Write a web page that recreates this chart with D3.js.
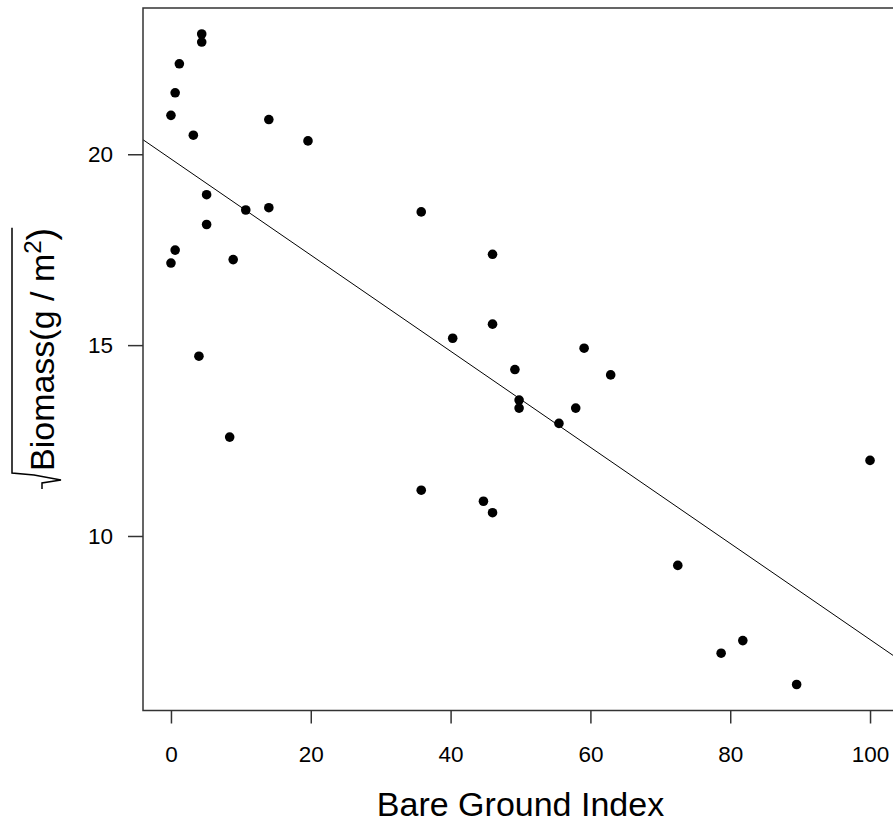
<!DOCTYPE html>
<html>
<head>
  <meta charset="utf-8">
  <title>Biomass vs Bare Ground Index</title>
  <script src="https://cdnjs.cloudflare.com/ajax/libs/d3/7.8.5/d3.min.js"></script>
  <style>
    html, body { margin: 0; padding: 0; background: #fff; overflow: hidden; }
    text { font-family: "Liberation Sans", Arial, sans-serif; fill: #000; }
  </style>
</head>
<body>
  <svg id="chart" width="893" height="822"></svg>
  <script>
    // bare ground index (x) and sqrt biomass (y)
    let bareGround = [4.4, 4.4, 1.2, 0.6, 0, 3.2, 14.0, 19.6, 5.1, 10.7, 14.0, 5.1,
      8.9, 0.6, 0, 4.0, 8.4, 35.8, 46.0, 46.0, 40.3, 49.2, 59.1, 62.9, 49.8, 49.8,
      57.9, 55.5, 35.8, 44.7, 46.0, 72.5, 81.8, 78.7, 89.5, 100]
    let sqrtBiomass = [23.15, 22.94, 22.37, 21.61, 21.02, 20.50, 20.91, 20.35, 18.94,
      18.54, 18.60, 18.16, 17.24, 17.49, 17.15, 14.71, 12.59, 18.49, 17.38, 15.55,
      15.18, 14.36, 14.92, 14.22, 13.56, 13.35, 13.35, 12.95, 11.20, 10.91, 10.61,
      9.23, 7.26, 6.93, 6.11, 11.98]
    let xTicks = [0, 20, 40, 60, 80, 100]
    let yTicks = [10, 15, 20]

    let plotL = 143, plotR = 898, plotT = 8, plotB = 710.5

    let svg = d3.select('#chart')

    // R style 4% padding on the data range
    const pad = (arr) => {
      let [lo, hi] = d3.extent(arr)
      let d = (hi - lo) * 0.04
      return [lo - d, hi + d]
    }

    let x = d3.scaleLinear().domain(pad(bareGround)).range([plotL, plotR])
    let y = d3.scaleLinear().domain(pad(sqrtBiomass)).range([plotB, plotT])

    // least squares fit, like abline(lm(y ~ x))
    let mx = d3.mean(bareGround), my = d3.mean(sqrtBiomass)
    let sxy = d3.sum(bareGround, (v, i) => (v - mx) * (sqrtBiomass[i] - my))
    let sxx = d3.sum(bareGround, v => (v - mx) * (v - mx))
    let slope = sxy / sxx
    let intercept = my - slope * mx

    svg.append('clipPath').attr('id', 'plotClip')
      .append('rect').attr('x', plotL).attr('y', plotT)
      .attr('width', plotR - plotL).attr('height', plotB - plotT)

    let xDom = x.domain()
    svg.append('line')
      .attr('clip-path', 'url(#plotClip)')
      .attr('x1', x(xDom[0])).attr('y1', y(intercept + slope * xDom[0]))
      .attr('x2', x(xDom[1])).attr('y2', y(intercept + slope * xDom[1]))
      .attr('stroke', '#000').attr('stroke-width', 1)

    svg.append('g').selectAll('circle')
      .data(bareGround)
      .join('circle')
      .attr('cx', d => x(d))
      .attr('cy', (d, i) => y(sqrtBiomass[i]))
      .attr('r', 4.8)
      .attr('fill', '#000')

    // box
    svg.append('rect')
      .attr('x', plotL).attr('y', plotT)
      .attr('width', plotR - plotL).attr('height', plotB - plotT)
      .attr('fill', 'none').attr('stroke', '#333').attr('stroke-width', 1.5)

    let xAxis = svg.append('g')
      .attr('transform', `translate(0,${plotB})`)
      .call(d3.axisBottom(x).tickValues(xTicks).tickSize(13).tickPadding(23).tickSizeOuter(0))
    xAxis.select('.domain').remove()
    xAxis.selectAll('line').attr('stroke', '#333').attr('stroke-width', 1.5)
    xAxis.selectAll('text').attr('font-size', 22.5).attr('fill', '#000')
      .style('font-family', '"Liberation Sans", Arial, sans-serif')

    let yAxis = svg.append('g')
      .attr('transform', `translate(${plotL},0)`)
      .call(d3.axisLeft(y).tickValues(yTicks).tickSize(15).tickPadding(15).tickSizeOuter(0))
    yAxis.select('.domain').remove()
    yAxis.selectAll('line').attr('stroke', '#333').attr('stroke-width', 1.5)
    yAxis.selectAll('text').attr('font-size', 22.5).attr('fill', '#000')
      .style('font-family', '"Liberation Sans", Arial, sans-serif')

    // x title
    svg.append('text')
      .attr('x', (plotL + plotR) / 2).attr('y', 816)
      .attr('text-anchor', 'middle')
      .attr('font-size', 34)
      .text('Bare Ground Index')

    // y title with square-root sign
    let yt = svg.append('text')
      .attr('transform', 'translate(54,471) rotate(-90)')
      .attr('font-size', 34)
    yt.append('tspan').text('Biomass(g / m')
    yt.append('tspan').attr('font-size', 24).attr('dy', -13).text('2')
    yt.append('tspan').attr('dy', 13).attr('font-size', 38).text(')')

    let tb = yt.node().getBBox()
    let textEnd = 471 - tb.width
    svg.append('path')
      .attr('d', `M12,${textEnd} V473 L34,475 L61,480 L42,483 L42,489`)
      .attr('fill', 'none').attr('stroke', '#000').attr('stroke-width', 1.5)
  </script>
</body>
</html>
